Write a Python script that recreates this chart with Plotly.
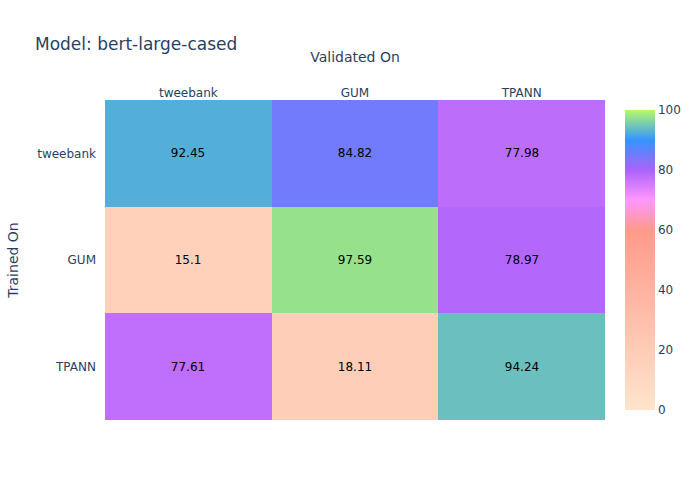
import plotly.graph_objects as go

# rows = trained on, columns = validated on
datasets = ["tweebank", "GUM", "TPANN"]
scores_tweebank = [92.45, 84.82, 77.98]
scores_gum = [15.1, 97.59, 78.97]
scores_tpann = [77.61, 18.11, 94.24]

scale = [
    [0.0, "#FFE4CC"],
    [0.6, "#FF9A8A"],
    [0.7, "#FF97FF"],
    [0.8, "#AB63FA"],
    [0.9, "#3595FF"],
    [1.0, "#B5FA68"],
]

z = [scores_tweebank, scores_gum, scores_tpann]

fig = go.Figure(go.Heatmap(
    z=z, x=datasets, y=datasets,
    colorscale=scale, zmin=0, zmax=100,
    text=z, texttemplate="%{text}",
    textfont=dict(color="black", size=12),
))

fig.update_layout(
    template="plotly_white",
    width=700, height=500,
    font=dict(family="DejaVu Sans"),
    title=dict(text="Model: bert-large-cased", x=0.05),
    xaxis=dict(title=dict(text="Validated On", standoff=19), side="top", showgrid=False),
    yaxis=dict(title="Trained On", autorange="reversed", showgrid=False,
               ticklabelstandoff=8),
)

# page margin would push the figure 8px off the corner
fig.write_html("out.html", config={"displayModeBar": False},
               post_script="document.body.style.margin = '0';")
